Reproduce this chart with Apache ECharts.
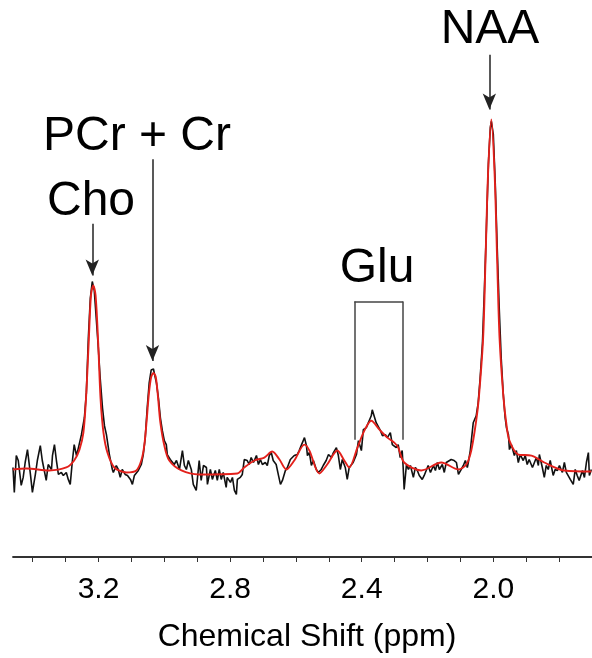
<!DOCTYPE html>
<html>
<head>
<meta charset="utf-8">
<script src="https://cdn.jsdelivr.net/npm/echarts@6/dist/echarts.min.js"></script>
<style>
  html, body { margin: 0; padding: 0; background: #fff; }
  #chart { width: 592px; height: 658px; }
</style>
</head>
<body>
<div id="chart"></div>
<script>
// measured spectrum, [ppm, intensity (a.u.)]
const spectrum = [
  [3.460,90],[3.456,65],[3.450,102],[3.444,97],[3.435,72],[3.429,80],[3.423,95],[3.416,108],[3.407,83],[3.401,65],
  [3.392,83],[3.386,97],[3.377,112],[3.371,97],[3.365,98],[3.359,77],[3.353,93],[3.343,88],[3.340,102],[3.334,113],
  [3.328,97],[3.322,83],[3.313,85],[3.307,82],[3.298,85],[3.292,78],[3.286,73],[3.280,95],[3.274,113],[3.267,102],
  [3.261,110],[3.252,123],[3.243,140],[3.237,165],[3.231,220],[3.225,260],[3.219,277],[3.213,268],[3.207,240],[3.201,212],
  [3.195,180],[3.188,150],[3.182,132],[3.176,123],[3.167,103],[3.158,88],[3.155,85],[3.146,92],[3.140,88],[3.134,80],
  [3.128,88],[3.119,83],[3.112,82],[3.103,78],[3.097,73],[3.091,82],[3.085,82],[3.079,87],[3.070,93],[3.064,103],
  [3.058,120],[3.052,150],[3.046,175],[3.040,188],[3.033,189],[3.030,184],[3.024,175],[3.018,160],[3.012,140],[3.006,127],
  [3.000,117],[2.994,113],[2.991,103],[2.982,98],[2.976,100],[2.970,93],[2.963,97],[2.954,88],[2.945,107],[2.939,92],
  [2.933,88],[2.927,97],[2.918,88],[2.912,73],[2.903,67],[2.894,97],[2.888,77],[2.881,92],[2.872,90],[2.869,73],
  [2.860,88],[2.854,78],[2.845,87],[2.839,77],[2.833,88],[2.827,78],[2.821,85],[2.812,70],[2.809,80],[2.799,75],
  [2.793,80],[2.787,67],[2.781,63],[2.778,78],[2.769,80],[2.763,83],[2.757,98],[2.748,97],[2.742,93],[2.736,100],
  [2.729,95],[2.720,102],[2.714,93],[2.708,98],[2.702,93],[2.693,95],[2.687,92],[2.681,102],[2.675,105],[2.669,97],
  [2.660,93],[2.653,82],[2.647,73],[2.641,77],[2.632,87],[2.626,90],[2.617,98],[2.611,97],[2.605,102],[2.596,103],
  [2.590,107],[2.584,112],[2.574,120],[2.568,112],[2.565,102],[2.559,105],[2.553,92],[2.547,97],[2.538,88],[2.532,85],
  [2.523,88],[2.517,92],[2.508,97],[2.501,103],[2.492,100],[2.486,105],[2.477,110],[2.471,102],[2.465,88],[2.459,98],
  [2.450,90],[2.444,78],[2.438,90],[2.432,88],[2.426,95],[2.416,103],[2.410,117],[2.401,107],[2.395,128],[2.386,130],
  [2.380,135],[2.371,142],[2.368,148],[2.362,147],[2.356,135],[2.350,133],[2.343,127],[2.337,122],[2.328,123],[2.322,120],
  [2.313,125],[2.307,113],[2.301,115],[2.295,110],[2.289,113],[2.283,100],[2.277,107],[2.274,90],[2.271,68],[2.264,93],
  [2.258,88],[2.252,92],[2.243,80],[2.237,90],[2.231,87],[2.225,82],[2.216,78],[2.210,82],[2.204,80],[2.198,92],
  [2.191,85],[2.182,92],[2.176,87],[2.170,95],[2.164,88],[2.155,93],[2.149,85],[2.143,95],[2.137,93],[2.128,98],
  [2.119,97],[2.112,95],[2.106,83],[2.100,85],[2.091,92],[2.085,97],[2.079,90],[2.076,95],[2.070,107],[2.061,135],
  [2.058,135],[2.052,142],[2.046,155],[2.040,180],[2.033,215],[2.027,270],[2.021,330],[2.015,395],[2.009,432],[2.006,438],
  [2.000,425],[1.994,375],[1.988,310],[1.982,250],[1.976,200],[1.970,165],[1.964,140],[1.960,130],[1.954,123],[1.951,108],
  [1.945,113],[1.939,115],[1.936,102],[1.930,107],[1.924,95],[1.918,103],[1.909,97],[1.903,102],[1.897,93],[1.891,98],
  [1.881,90],[1.875,95],[1.869,100],[1.863,92],[1.860,103],[1.851,90],[1.845,80],[1.839,92],[1.833,88],[1.827,97],
  [1.818,82],[1.812,88],[1.805,87],[1.799,92],[1.790,85],[1.784,95],[1.778,85],[1.772,83],[1.766,78],[1.757,73],
  [1.751,88],[1.745,82],[1.739,77],[1.729,87],[1.723,80],[1.717,95],[1.711,105],[1.708,82],[1.702,88]
]

// fitted model
const fit = [
  [3.460,88],[3.419,89],[3.350,87],[3.298,90],[3.274,97],[3.258,108],[3.246,125],[3.238,160],[3.230,215],[3.223,263],
  [3.216,273],[3.209,263],[3.201,215],[3.194,160],[3.185,125],[3.173,105],[3.152,90],[3.115,85],[3.085,87],[3.070,97],
  [3.061,112],[3.053,140],[3.047,164],[3.040,181],[3.033,185],[3.026,181],[3.019,160],[3.012,135],[3.000,112],[2.985,97],
  [2.948,87],[2.894,83],[2.778,84],[2.757,90],[2.726,97],[2.696,100],[2.672,106],[2.650,98],[2.629,88],[2.605,97],
  [2.574,113],[2.559,107],[2.529,84],[2.505,93],[2.474,107],[2.453,97],[2.438,90],[2.413,110],[2.392,127],[2.371,137],
  [2.346,128],[2.322,120],[2.301,115],[2.289,110],[2.271,95],[2.219,87],[2.158,95],[2.106,88],[2.082,93],[2.067,107],
  [2.052,137],[2.044,160],[2.031,220],[2.024,295],[2.016,385],[2.006,440],[1.996,385],[1.988,295],[1.981,220],[1.969,160],
  [1.960,133],[1.951,117],[1.924,103],[1.884,102],[1.845,95],[1.784,87],[1.702,86]
]

const tickPpm = [3.4, 3.3, 3.2, 3.1, 3.0, 2.9, 2.8, 2.7, 2.6, 2.5, 2.4, 2.3, 2.2, 2.1, 2.0, 1.9, 1.8]
const labelPpm = [3.2, 2.8, 2.4, 2.0]

// arrows: [ppm, from, to] in data units
const arrows = [
  [3.219, 335, 283],
  [3.036, 400, 197],
  [2.012, 505, 450]
]
// Glu bracket: ppm edges, bottom and top
const gluRange = [2.4225, 2.274]
const gluLevels = [118, 257]

const chart = echarts.init(document.getElementById('chart'), null, { renderer: 'canvas' })

const FONT = '"Liberation Sans", Arial, Helvetica, sans-serif'

const arrowLines = arrows.map(a => [
  { coord: [a[0], a[1]], symbol: 'none' },
  { coord: [a[0], a[2]], symbol: 'arrow', symbolSize: [10, 16] }
])
const bracket = [
  [{ coord: [gluRange[0], gluLevels[0]] }, { coord: [gluRange[0], gluLevels[1]] }],
  [{ coord: [gluRange[0], gluLevels[1]] }, { coord: [gluRange[1], gluLevels[1]] }],
  [{ coord: [gluRange[1], gluLevels[1]] }, { coord: [gluRange[1], gluLevels[0]] }]
]

const peakText = (text, x, y) => ({
  type: 'text',
  x: x,
  y: y,
  style: {
    text: text,
    font: '48px ' + FONT,
    fill: '#000',
    align: 'center',
    verticalAlign: 'middle'
  }
})

chart.setOption({
  animation: false,
  backgroundColor: '#fff',
  grid: { left: 13, right: 0, top: 0, bottom: 98 },
  xAxis: {
    type: 'value',
    inverse: true,
    min: 1.70,
    max: 3.46,
    name: 'Chemical Shift (ppm)',
    nameLocation: 'middle',
    nameGap: 64,
    nameTextStyle: { fontFamily: FONT, fontSize: 32, color: '#000', padding: [0, 0, 0, 9] },
    axisLine: { show: true, onZero: false, lineStyle: { color: '#333', width: 1.8 } },
    axisTick: { show: true, inside: false, length: 5, customValues: tickPpm, lineStyle: { color: '#333', width: 1 } },
    axisLabel: {
      customValues: labelPpm,
      formatter: v => v.toFixed(1),
      fontFamily: FONT,
      fontSize: 30,
      color: '#000',
      margin: 18
    },
    splitLine: { show: false }
  },
  yAxis: {
    type: 'value',
    min: 0,
    max: 560,
    show: false,
    splitLine: { show: false }
  },
  series: [
    {
      type: 'line',
      data: spectrum,
      showSymbol: false,
      lineStyle: { color: '#111', width: 1.6 },
      z: 2,
      markLine: {
        silent: true,
        symbol: ['none', 'none'],
        label: { show: false },
        lineStyle: { color: '#444', width: 1.5, type: 'solid' },
        data: bracket
      }
    },
    {
      type: 'line',
      data: fit,
      smooth: 0.3,
      showSymbol: false,
      lineStyle: { color: '#e3201b', width: 1.9 },
      z: 3,
      markLine: {
        silent: true,
        label: { show: false },
        lineStyle: { color: '#222', width: 1.5, type: 'solid' },
        data: arrowLines
      }
    }
  ],
  graphic: [
    peakText('NAA', 490, 30),
    peakText('PCr + Cr', 137, 137),
    peakText('Cho', 91, 202),
    peakText('Glu', 377, 269)
  ]
})
</script>
</body>
</html>
